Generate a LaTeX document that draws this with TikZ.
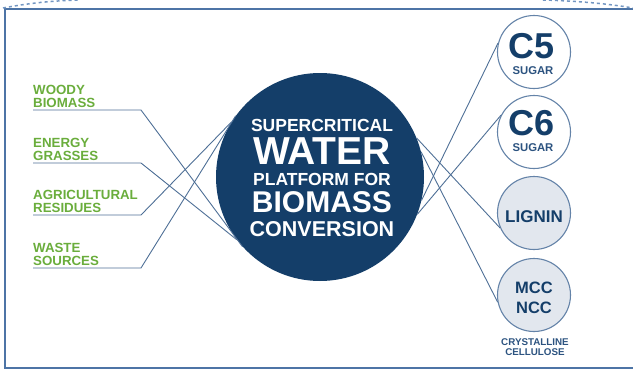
\documentclass[tikz,border=0pt]{standalone}
\usepackage{fontspec}
\setmainfont{Liberation Sans}
\definecolor{navy}{HTML}{143E69}
\definecolor{leaf}{HTML}{6AAD3C}
\definecolor{framec}{HTML}{4D74A6}
\definecolor{linec}{HTML}{4E6F96}
\definecolor{ringc}{HTML}{6483A8}
\definecolor{pale}{HTML}{E2E7EE}
\definecolor{dashc}{HTML}{7396C2}
\definecolor{subc}{HTML}{2C5380}
\tikzset{
  lbl/.style={anchor=base west, inner sep=0pt, text=leaf, font=\bfseries\fontsize{13.3}{13}\selectfont},
  ctr/.style={anchor=base, inner sep=0pt, text=white},
  conn/.style={draw=linec, line width=0.9pt, line join=round},
  prod/.style={circle, draw=ringc, line width=1.1pt, minimum size=73pt, inner sep=0pt},
  ptxt/.style={anchor=base, inner sep=0pt, text=navy},
  framel/.style={draw=framec, line width=1.8pt},
  dashl/.style={draw=dashc, line width=1.5pt, dashed}
}
\begin{document}
\begin{tikzpicture}[x=1pt,y=-1pt]
\useasboundingbox (0,0) rectangle (633,370);
% frame
\draw[framel] (633,9) -- (5,9) -- (5,368) -- (633,368);
\draw[dashl] (3,8) .. controls (30,3) and (50,1) .. (78,0);
\draw[dashl] (543,0) .. controls (580,1) and (610,4) .. (633,8);

% main circle
\node[circle, fill=navy, minimum size=208pt, inner sep=0pt] (main) at (320,177) {};
\node[ctr, font=\bfseries\fontsize{17.5}{18}\selectfont] (t1) at (322,131) {SUPERCRITICAL};
\node[ctr, font=\bfseries\fontsize{39}{39}\selectfont] (t2) at (322,164.5) {WATER};
\node[ctr, font=\bfseries\fontsize{17.5}{18}\selectfont] (t3) at (322,185.5) {PLATFORM FOR};
\node[ctr, font=\bfseries\fontsize{30}{30}\selectfont] (t4) at (322,212) {BIOMASS};
\node[ctr, font=\bfseries\fontsize{21.5}{21}\selectfont] (t5) at (322,236) {CONVERSION};

% left labels
\node[lbl] (w1) at (33,94) {WOODY};
\node[lbl] (w2) at (33,107) {BIOMASS};
\node[lbl] (e1) at (33,147) {ENERGY};
\node[lbl] (e2) at (33,160) {GRASSES};
\node[lbl] (a1) at (33,199) {AGRICULTURAL};
\node[lbl] (a2) at (33,212) {RESIDUES};
\node[lbl] (s1) at (33,252) {WASTE};
\node[lbl] (s2) at (33,265) {SOURCES};

\coordinate (wu) at (33,110); \coordinate (wk) at (141,110);
\coordinate (eu) at (33,163); \coordinate (ek) at (141,163);
\coordinate (au) at (33,215); \coordinate (ak) at (141,215);
\coordinate (su) at (33,268); \coordinate (sk) at (141,268);

\draw[conn] (wu) -- (wk) -- (main.222);
\draw[conn] (eu) -- (ek) -- (main.217);
\draw[conn] (au) -- (ak) -- (main.148);
\draw[conn] (su) -- (sk) -- (main.144);

% products
\node[prod, fill=white] (c5) at (534,52) {};
\node[prod, fill=white] (c6) at (534,132) {};
\node[prod, fill=pale] (lig) at (534,213) {};
\node[prod, fill=pale] (mcc) at (534,295) {};

\node[ptxt, font=\bfseries\fontsize{36}{36}\selectfont] (c5a) at (532,58) {C5};
\node[ptxt, text=subc, font=\bfseries\fontsize{11.3}{11}\selectfont] (c5b) at (533,74) {SUGAR};
\node[ptxt, font=\bfseries\fontsize{36}{36}\selectfont] (c6a) at (532,135) {C6};
\node[ptxt, text=subc, font=\bfseries\fontsize{11.3}{11}\selectfont] (c6b) at (533,151) {SUGAR};
\node[ptxt, font=\bfseries\fontsize{17}{17}\selectfont] (ligt) at (534,222) {LIGNIN};
\node[ptxt, font=\bfseries\fontsize{16.5}{17}\selectfont] (m1) at (534,293) {MCC};
\node[ptxt, font=\bfseries\fontsize{16.5}{17}\selectfont] (m2) at (534,313) {NCC};
\node[ptxt, text=subc, font=\bfseries\fontsize{9.8}{10}\selectfont] (cr1) at (535,345) {CRYSTALLINE};
\node[ptxt, text=subc, font=\bfseries\fontsize{9.8}{10}\selectfont] (cr2) at (535,355) {CELLULOSE};

\draw[conn] (main.22) -- (lig.204);
\draw[conn] (main.14) -- (mcc.191);
\draw[conn] (main.-13) -- (c5.166);
\draw[conn] (main.-21) -- (c6.153);
\end{tikzpicture}
\end{document}
